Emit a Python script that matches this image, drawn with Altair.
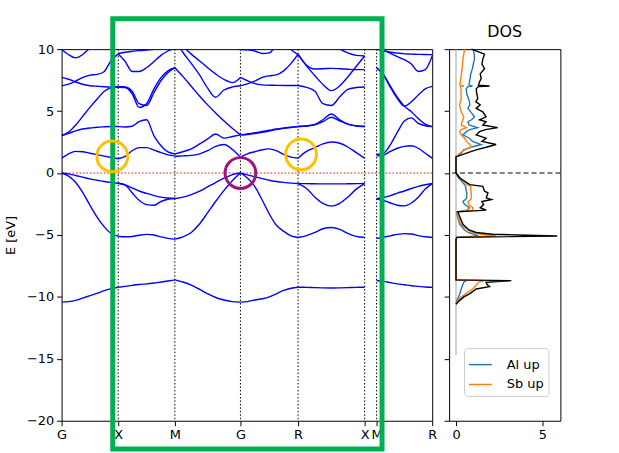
import altair as alt
import pandas as pd

FONT = "DejaVu Sans"

# ---------------- band structure ----------------
# high-symmetry points along the k-path
node_k = [0, 57, 114, 180, 238, 305, 317, 373]
node_labels = ["G", "X", "M", "G", "R", "X", "M", "R"]
energy_ticks = [-20, -15, -10, -5, 0, 5, 10]

# k samples on each path segment
k_GX = [0, 7, 14, 21, 28.5, 36, 43, 50, 57]
k_XM = [57, 64, 71, 78, 85.5, 93, 100, 107, 114]
k_MG = [114, 122, 130.5, 139, 147, 155, 163.5, 172, 180]
k_GR = [180, 187, 194.5, 202, 209, 216, 223.5, 231, 238]
k_RX = [238, 246.5, 255, 263, 271.5, 280, 288, 296.5, 305]
k_MR = [317, 324, 331, 338, 345, 352, 359, 366, 373]

# band energies (eV) at those samples
bands_GX = [
    [-10.42, -10.38, -10.28, -10.1, -9.9, -9.7, -9.5, -9.33, -9.22],
    [0, -0.25, -0.75, -1.55, -2.6, -3.6, -4.35, -4.9, -5.1],
    [0, -0.07, -0.2, -0.33, -0.47, -0.58, -0.68, -0.76, -0.83],
    [1.2, 1.55, 1.75, 1.72, 1.6, 1.48, 1.36, 1.25, 1.15],
    [3.03, 3.2, 3.4, 3.55, 3.63, 3.7, 3.73, 3.75, 3.75],
    [3.03, 3.3, 3.85, 4.55, 5.3, 6.0, 6.6, 6.9, 6.98],
    [7.72, 7.57, 7.35, 7.17, 7.05, 7.0, 6.96, 6.93, 6.92],
    [7.04, 7.17, 7.42, 7.7, 7.9, 7.96, 8.2, 9.1, 9.6],
    [9.97, 9.55, 9.3, 9.55, 10.1, 10.7, 11.3, 11.8, 12.2],
]
bands_XM = [
    [-9.22, -9.15, -9.07, -9.0, -8.95, -8.88, -8.8, -8.72, -8.63],
    [-5.1, -5.15, -5.12, -5.02, -4.95, -5.0, -5.15, -5.28, -5.34],
    [-0.83, -0.95, -1.2, -1.45, -1.65, -1.82, -1.95, -2.02, -2.06],
    [-0.83, -0.97, -1.6, -2.2, -2.55, -2.6, -2.3, -2.12, -2.06],
    [1.15, 1.35, 1.8, 2.05, 2.05, 1.85, 1.65, 1.47, 1.38],
    [3.75, 3.72, 3.78, 4.15, 4.3, 3.0, 2.2, 1.7, 1.55],
    [6.98, 6.95, 6.6, 5.6, 5.45, 6.5, 7.45, 8.1, 8.5],
    [6.92, 6.9, 6.4, 5.3, 5.6, 6.8, 7.7, 8.25, 8.5],
    [9.6, 9.0, 8.2, 8.2, 8.5, 9.0, 9.5, 9.85, 10.1],
    [9.65, 9.75, 9.82, 9.88, 9.93, 9.98, 10.03, 10.1, 10.15],
]
bands_MG = [
    [-8.63, -8.8, -9.05, -9.4, -9.75, -10.05, -10.25, -10.38, -10.42],
    [-5.34, -5.15, -4.8, -4.1, -3.2, -2.3, -1.4, -0.6, 0],
    [-2.06, -1.95, -1.75, -1.47, -1.12, -0.77, -0.42, -0.13, 0],
    [1.35, 1.38, 1.42, 1.55, 1.8, 2.15, 2.3, 1.9, 1.28],
    [1.55, 1.72, 1.95, 2.35, 2.75, 3.15, 2.82, 2.95, 3.08],
    [8.5, 7.8, 7.0, 6.2, 5.5, 4.85, 4.2, 3.6, 3.08],
    [10.8, 9.75, 8.85, 7.9, 6.85, 6.12, 6.7, 6.95, 7.04],
    [11.0, 10.25, 9.6, 9.05, 8.5, 8.0, 7.55, 7.3, 7.72],
    [13.5, 13.0, 12.5, 12.0, 11.5, 11.0, 10.5, 10.1, 9.97],
]
bands_GR = [
    [-10.42, -10.38, -10.25, -10.15, -10.0, -9.75, -9.48, -9.3, -9.22],
    [0, -0.4, -1.1, -2.2, -3.3, -4.2, -4.7, -5.08, -5.21],
    [0, -0.15, -0.3, -0.45, -0.58, -0.68, -0.76, -0.82, -0.85],
    [1.28, 1.55, 1.72, 1.88, 1.95, 1.8, 1.5, 1.28, 1.2],
    [3.08, 3.15, 3.25, 3.35, 3.45, 3.55, 3.63, 3.7, 3.75],
    [3.08, 3.11, 3.18, 3.28, 3.39, 3.5, 3.6, 3.68, 3.75],
    [7.04, 7.2, 7.42, 7.72, 7.85, 7.92, 8.25, 8.85, 9.6],
    [7.72, 7.45, 7.22, 7.12, 7.09, 7.08, 7.07, 7.07, 7.07],
    [9.97, 9.94, 9.85, 9.65, 9.7, 10.3, 11.0, 11.6, 12.2],
    [13.0, 12.6, 12.2, 11.8, 11.4, 10.9, 10.4, 9.95, 9.55],
]
bands_RX = [
    [-9.22, -9.23, -9.25, -9.27, -9.28, -9.27, -9.25, -9.23, -9.22],
    [-5.21, -5.05, -4.8, -4.5, -4.4, -4.55, -4.87, -5.12, -5.21],
    [-0.85, -0.86, -0.87, -0.88, -0.88, -0.88, -0.87, -0.86, -0.85],
    [-0.85, -1.25, -1.95, -2.45, -2.67, -2.45, -1.95, -1.3, -0.85],
    [1.2, 1.75, 2.05, 2.35, 2.5, 2.4, 2.1, 1.65, 1.2],
    [3.75, 3.8, 3.9, 4.15, 4.5, 4.2, 3.95, 3.82, 3.75],
    [3.75, 3.8, 3.92, 4.3, 4.76, 4.3, 3.95, 3.8, 3.75],
    [7.07, 6.92, 6.6, 5.6, 5.45, 6.15, 6.75, 6.9, 6.95],
    [9.6, 8.65, 7.85, 7.15, 6.65, 7.05, 7.75, 8.6, 9.45],
    [9.55, 8.7, 8.4, 8.42, 8.45, 8.42, 8.38, 8.35, 8.35],
    [12.2, 11.7, 11.2, 10.8, 10.4, 10.0, 9.7, 9.5, 9.45],
]
bands_MR = [
    [-8.68, -8.75, -8.85, -8.95, -9.02, -9.1, -9.15, -9.2, -9.22],
    [-5.29, -5.18, -5.07, -4.95, -4.89, -4.92, -5.05, -5.15, -5.21],
    [-2.08, -1.97, -1.82, -1.62, -1.45, -1.25, -1.08, -0.95, -0.85],
    [-2.08, -2.22, -2.42, -2.6, -2.65, -2.42, -1.95, -1.3, -0.85],
    [1.38, 1.45, 1.75, 2.0, 2.15, 2.2, 2.0, 1.6, 1.2],
    [1.5, 1.6, 2.3, 3.3, 4.2, 4.45, 4.0, 3.82, 3.75],
    [8.5, 7.95, 7.0, 6.1, 5.4, 4.95, 4.4, 3.95, 3.75],
    [8.5, 7.9, 6.9, 6.0, 5.4, 5.75, 6.3, 6.8, 7.0],
    [10.3, 9.95, 9.65, 9.4, 9.15, 8.8, 8.2, 8.35, 9.45],
    [10.0, 9.85, 9.75, 9.68, 9.62, 9.6, 9.58, 9.57, 9.55],
]

# highlighted regions drawn over the band plot
ring_k = [51, 180, 241]
ring_E = [1.34, 0.0, 1.5]
ring_color = ["#ffc000", "#a0157d", "#ffc000"]
box_k = [51.5, 322.5]
box_E = [-22.28, 12.45]

# ---------------- density of states ----------------
dos_E = [
    -10.6, -10.3, -10.0, -9.76, -9.36, -9.17, -9.0, -8.82, -8.69, -8.63,
    -5.35, -5.2, -5.08, -4.94, -4.8, -4.6, -4.14, -3.47, -3.13, -3.0,
    -2.8, -2.55, -2.3, -2.14, -2.0, -1.6, -1.47, -1.07, -0.94, -0.4, 0.0,
    1.3, 1.6, 1.87, 2.1, 2.3, 2.55, 2.81, 3.08, 3.34, 3.5,
    3.66, 3.88, 4.14, 4.3, 4.54, 4.94, 5.22, 5.5, 5.75, 6.02,
    6.4, 6.8, 6.98, 7.03, 7.1, 7.36, 7.63, 8.0, 8.43, 8.8,
    9.2, 9.6, 10.0,
]
dos_total = [
    0, 0.2, 0.45, 0.78, 1.17, 1.94, 1.8, 1.74, 3.2, 0,
    0, 0.05, 5.86, 2.1, 1.17, 0.75, 0.4, 0.2, 0.1, 1.75,
    1.4, 1.6, 1.5, 2.05, 1.75, 1.85, 1.65, 1.55, 0.8, 0.22, 0,
    0, 0.6, 1.17, 1.8, 2.32, 1.5, 1.74, 1.17, 1.36, 1.7,
    2.41, 1.55, 1.74, 1.36, 1.74, 1.55, 1.17, 1.4, 1.15, 1.26,
    1.2, 1.17, 1.3, 1.94, 1.3, 1.36, 1.46, 1.4, 1.65, 1.5,
    1.55, 1.65, 0.9,
]
dos_al_up = [
    0, 0.05, 0.15, 0.22, 0.3, 0.35, 0.4, 0.45, 0.6, 0,
    0, 0.02, 1.3, 1.0, 0.7, 0.5, 0.22, 0.08, 0.04, 0.65,
    0.78, 0.5, 0.4, 0.55, 0.62, 0.62, 0.6, 0.55, 0.5, 0.15, 0,
    0, 0.3, 0.45, 0.9, 1.46, 0.95, 0.78, 0.4, 0.6, 0.8,
    1.25, 0.75, 0.69, 0.9, 1.07, 0.85, 0.69, 0.8, 0.78, 0.72,
    0.62, 0.59, 0.7, 0.95, 0.75, 0.78, 0.82, 0.85, 0.95, 1.0,
    1.07, 1.05, 1.0,
]
dos_sb_up = [
    0, 0.1, 0.3, 0.55, 0.95, 1.1, 1.2, 1.3, 1.65, 0,
    0, 0.03, 2.3, 1.5, 0.9, 0.7, 0.3, 0.1, 0.05, 0.95,
    0.98, 0.72, 0.7, 0.85, 0.88, 0.88, 0.86, 0.85, 0.65, 0.25, 0,
    0, 0.21, 0.5, 0.88, 0.8, 0.6, 0.5, 0.3, 0.21, 0.3,
    0.6, 0.3, 0.35, 0.4, 0.45, 0.3, 0.25, 0.21, 0.25, 0.31,
    0.28, 0.3, 0.25, 0.45, 0.22, 0.25, 0.28, 0.31, 0.35, 0.38,
    0.4, 0.45, 0.5,
]
dos_zero_E = [-14.7, 10.0]
dos_ticks = [0, 5]

# ---------------- tables ----------------
segments = [
    ("GX", k_GX, bands_GX), ("XM", k_XM, bands_XM), ("MG", k_MG, bands_MG),
    ("GR", k_GR, bands_GR), ("RX", k_RX, bands_RX), ("MR", k_MR, bands_MR),
]
rows = []
for seg, ks, bands in segments:
    for i, energies in enumerate(bands):
        for k, e in zip(ks, energies):
            rows.append({"k": k, "E": e, "curve": f"{seg}{i}"})
band_df = pd.DataFrame(rows)

nodes_df = pd.DataFrame({"k": node_k[1:-1]})
zero_df = pd.DataFrame({"E": [0.0]})
rings_df = pd.DataFrame({"k": ring_k, "E": ring_E, "color": ring_color})
box_df = pd.DataFrame({"k": [box_k[0]], "k2": [box_k[1]], "E": [box_E[0]], "E2": [box_E[1]]})

dos_df = pd.DataFrame({"E": dos_E, "total": dos_total, "Al up": dos_al_up, "Sb up": dos_sb_up})
pdos_df = dos_df.melt(id_vars="E", value_vars=["Al up", "Sb up"], var_name="series", value_name="dos")
gray_df = pd.DataFrame({"E": dos_zero_E, "dos": [0.0, 0.0]})

# ---------------- shared encodings ----------------
e_scale = alt.Scale(domain=[-20, 10], nice=False, zero=False)
k_scale = alt.Scale(domain=[node_k[0], node_k[-1]], nice=False, zero=False)
dos_scale = alt.Scale(domain=[-0.4, 6.04], nice=False, zero=False)

label_expr = f"{node_labels}[indexof({node_k}, datum.value)]"


def kx(field="k"):
    return alt.X(f"{field}:Q", scale=k_scale,
                 axis=alt.Axis(values=node_k, labelExpr=label_expr, title=None))


def ey(field="E", labels=True):
    return alt.Y(f"{field}:Q", scale=e_scale,
                 axis=alt.Axis(values=energy_ticks, labels=labels,
                               title="E [eV]" if labels else None))


def dx(field="dos"):
    return alt.X(f"{field}:Q", scale=dos_scale,
                 axis=alt.Axis(values=dos_ticks, format="d", title=None))


# ---------------- band panel ----------------
vlines = alt.Chart(nodes_df).mark_rule(color="black", strokeWidth=1, strokeDash=[1.5, 2]).encode(x=kx())
fermi = alt.Chart(zero_df).mark_rule(color="red", strokeWidth=1, strokeDash=[1.5, 2]).encode(y=ey())
band_lines = alt.Chart(band_df).mark_line(
    color="#0000ff", strokeWidth=1.4, interpolate="monotone", clip=True
).encode(x=kx(), y=ey(), detail="curve:N", order="k:Q")
box = alt.Chart(box_df).mark_rect(
    fillOpacity=0, stroke="#00b050", strokeWidth=5, clip=False
).encode(x=kx(), x2="k2:Q", y=ey(), y2="E2:Q")
rings = alt.Chart(rings_df).mark_point(
    shape="circle", filled=False, size=960, strokeWidth=3, opacity=1, clip=False
).encode(x=kx(), y=ey(), color=alt.Color("color:N", scale=None))

band_panel = alt.layer(vlines, fermi, band_lines, box, rings).properties(width=373, height=374)

# ---------------- DOS panel ----------------
gray_line = alt.Chart(gray_df).mark_line(color="#a0a0a0", strokeWidth=1).encode(
    x=dx(), y=ey(labels=False), order="E:Q")
pdos_lines = alt.Chart(pdos_df).mark_line(strokeWidth=1.4).encode(
    x=dx(), y=ey(labels=False), order="E:Q",
    color=alt.Color("series:N",
                    scale=alt.Scale(domain=["Al up", "Sb up"], range=["#1f77b4", "#ff7f0e"]),
                    legend=alt.Legend(
                        title=None, orient="none", legendX=405, legendY=301,
                        fillColor="white", strokeColor="#cccccc", cornerRadius=3,
                        padding=4, symbolType="stroke", symbolSize=529,
                        symbolStrokeWidth=1.5, labelFontSize=13, labelFont=FONT,
                        labelOffset=14, rowPadding=-3,
                    )),
)
total_line = alt.Chart(dos_df).mark_line(color="black", strokeWidth=1.4).encode(
    x=dx("total"), y=ey(labels=False), order="E:Q")
dashed = alt.Chart(zero_df).mark_rule(color="black", strokeWidth=1, strokeDash=[5, 3]).encode(
    y=ey(labels=False))

dos_panel = alt.layer(gray_line, pdos_lines, total_line, dashed).properties(
    width=112, height=374,
    title=alt.TitleParams("DOS", font=FONT, fontSize=16, fontWeight="normal", color="black",
                          offset=6, frame="group"),
)

chart = alt.hconcat(band_panel, dos_panel, spacing=5).properties(
    padding={"left": 4, "top": 14, "right": 58, "bottom": 1}
).configure_view(
    stroke="black", strokeWidth=1
).configure_axis(
    grid=False, domain=False, labelFont=FONT, labelFontSize=13, labelColor="black",
    titleFont=FONT, titleFontSize=13, titleFontWeight="normal", titleColor="black",
    tickColor="black", tickSize=5, tickWidth=1, labelPadding=3, titlePadding=9,
    labelFlush=False, labelOverlap=False, labelBound=False,
)

chart.save("out.html", embed_options={"renderer": "svg", "actions": False})
